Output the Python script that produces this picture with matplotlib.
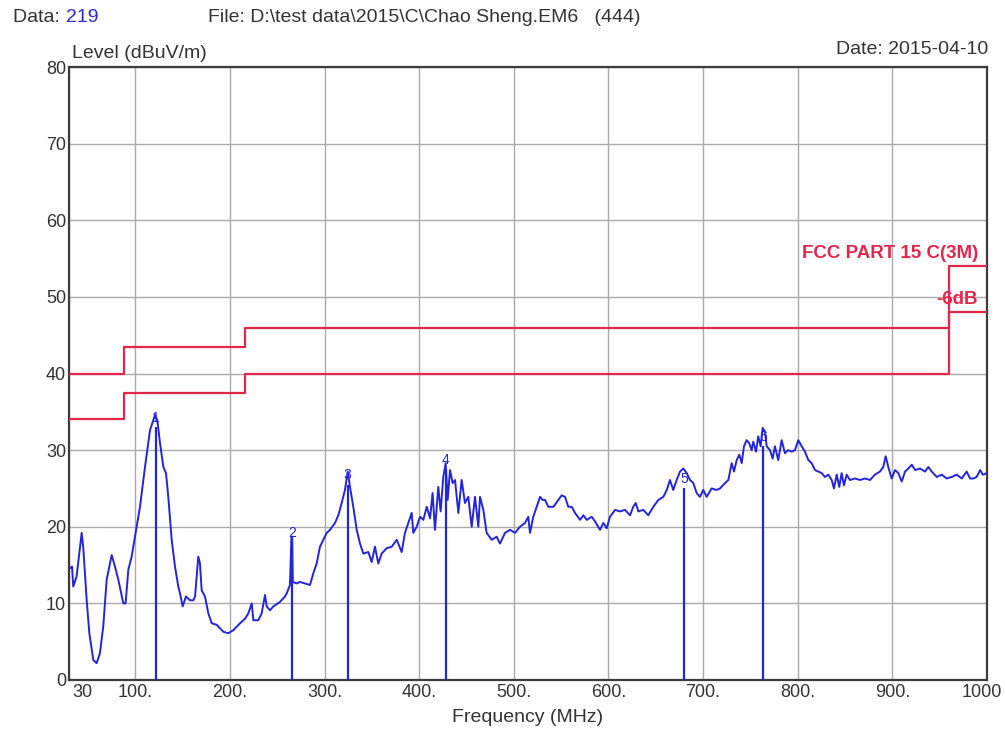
import matplotlib
matplotlib.use("Agg")
import matplotlib.pyplot as plt
from matplotlib.transforms import ScaledTranslation

plt.rcParams['font.family'] = ['Liberation Sans', 'DejaVu Sans']

# Measured spectrum (MHz, dBuV/m)
freq = [30.0, 33.2, 34.5, 38.0, 43.4, 45.0, 48.7, 51.5, 55.7, 59.2, 62.7, 66.2, 69.8,
        75.1, 78.6, 82.1, 87.4, 89.8, 92.7, 96.2, 101.5, 105.0, 110.3, 115.6, 120.9,
        123.3, 126.2, 129.7, 132.5, 134.9, 138.5, 142.0, 145.5, 147.3, 150.1, 153.6,
        157.9, 161.4, 163.2, 166.6, 168.4, 170.2, 173.7, 177.2, 180.8, 186.1, 193.0,
        198.3, 203.6, 210.7, 216.0, 219.5, 223.1, 224.8, 230.0, 233.6, 237.1, 238.9,
        242.4, 245.9, 253.0, 258.2, 260.0, 263.5, 265.0, 265.8, 266.5, 270.5, 274.0,
        279.4, 284.6, 288.1, 291.7, 295.2, 298.7, 302.3, 305.8, 311.1, 314.6, 318.1,
        321.6, 324.5, 326.9, 330.4, 334.0, 337.5, 341.0, 346.3, 349.8, 353.3, 356.8,
        360.4, 365.7, 371.0, 376.3, 381.5, 385.0, 388.6, 392.1, 393.8, 397.4, 400.9,
        404.4, 408.0, 411.5, 414.2, 416.7, 420.2, 422.7, 425.5, 428.0, 430.1, 432.6,
        435.4, 437.9, 441.4, 444.9, 448.4, 451.9, 455.5, 459.0, 462.5, 464.3, 467.8,
        471.3, 476.6, 481.9, 485.4, 490.7, 496.0, 501.3, 506.5, 511.8, 515.3, 517.1,
        520.6, 524.2, 527.7, 530.5, 533.0, 536.5, 541.8, 547.0, 550.6, 554.1, 557.6,
        561.2, 564.7, 570.0, 573.5, 577.0, 582.3, 585.8, 591.1, 594.6, 598.2, 601.6,
        607.0, 612.2, 617.5, 622.8, 626.2, 628.8, 631.6, 636.8, 642.1, 647.4, 652.7,
        658.0, 661.6, 665.0, 668.5, 672.1, 675.6, 679.1, 682.7, 686.2, 689.7, 693.2,
        696.7, 700.2, 703.8, 709.0, 714.3, 717.9, 723.2, 726.7, 730.2, 732.7, 735.5,
        738.3, 740.8, 743.2, 746.0, 748.8, 751.3, 753.0, 755.9, 758.3, 760.8, 763.0,
        765.4, 767.2, 770.7, 773.5, 775.9, 779.4, 783.0, 786.5, 790.0, 793.6, 797.1,
        800.6, 804.2, 807.7, 811.2, 814.7, 818.3, 821.7, 825.3, 828.8, 832.3, 835.9,
        838.3, 841.2, 843.9, 846.4, 848.8, 851.7, 855.2, 860.5, 865.8, 871.1, 876.4,
        881.6, 886.9, 890.4, 892.9, 895.7, 899.3, 902.8, 906.3, 909.9, 913.4, 916.9,
        920.5, 924.0, 929.2, 934.5, 938.0, 941.6, 946.9, 952.2, 957.4, 962.7, 968.0,
        973.3, 978.5, 982.1, 985.6, 989.0, 992.8, 995.5, 1000.0]
level = [14.5, 14.8, 12.2, 13.5, 19.2, 17.4, 10.4, 6.1, 2.6, 2.2, 3.5, 7.0, 13.1,
         16.3, 14.8, 13.1, 10.0, 10.0, 14.4, 16.1, 20.0, 22.6, 27.8, 32.6, 34.6,
         33.9, 30.9, 27.8, 27.0, 23.9, 18.3, 14.8, 12.2, 11.3, 9.6, 10.9,
         10.4, 10.4, 10.9, 16.1, 15.2, 11.7, 10.9, 8.7, 7.4, 7.2, 6.3,
         6.1, 6.5, 7.4, 8.0, 8.7, 10.0, 7.8, 7.8, 8.7, 11.1, 9.6,
         9.1, 9.6, 10.2, 10.9, 11.3, 12.4, 18.7, 18.7, 12.8, 12.6, 12.8,
         12.6, 12.4, 13.9, 15.2, 17.4, 18.3, 19.2, 19.6, 20.5, 21.5, 23.1,
         24.8, 27.2, 25.2, 22.6, 19.6, 17.8, 16.5, 16.7, 15.4, 17.4, 15.2,
         16.5, 17.2, 17.4, 18.3, 16.7, 19.2, 20.5, 21.8, 19.2, 20.0, 21.3,
         20.9, 22.6, 21.1, 24.4, 19.6, 25.2, 22.0, 26.5, 28.3, 23.5, 27.4,
         25.7, 26.1, 21.8, 26.1, 23.1, 23.9, 20.0, 23.9, 20.0, 23.9, 22.2,
         19.2, 18.3, 18.7, 17.8, 19.2, 19.6, 19.2, 20.0, 20.5, 21.3, 19.2,
         21.3, 22.6, 23.9, 23.5, 23.5, 22.6, 22.6, 23.5, 24.1, 23.9, 22.6,
         22.6, 21.8, 20.9, 21.5, 20.9, 21.3, 20.7, 19.6, 20.5, 19.8, 21.3,
         22.2, 22.0, 22.2, 21.5, 22.6, 23.1, 22.0, 22.2, 21.5, 22.6, 23.5,
         23.9, 24.8, 26.1, 24.8, 26.1, 27.2, 27.6, 27.0, 26.1, 25.7, 24.4,
         23.9, 24.8, 23.9, 25.0, 24.8, 25.0, 25.7, 26.1, 28.3, 27.2, 28.7,
         29.4, 28.3, 30.5, 31.3, 30.9, 30.0, 31.1, 29.8, 31.8, 30.5, 32.9,
         32.4, 30.5, 30.0, 28.9, 30.5, 28.7, 31.3, 29.6, 30.0, 29.8, 30.0,
         31.3, 30.5, 29.8, 28.7, 28.3, 27.4, 27.2, 27.0, 26.5, 26.8, 26.1,
         25.0, 26.8, 25.2, 27.0, 25.4, 26.8, 26.1, 26.3, 26.1, 26.3, 26.1,
         26.8, 27.2, 27.8, 29.2, 27.8, 26.3, 27.4, 27.0, 25.9, 27.2, 27.6,
         28.1, 27.4, 27.6, 27.2, 27.8, 27.2, 26.5, 26.8, 26.3, 26.5, 26.8,
         26.3, 27.2, 26.3, 26.3, 26.5, 27.4, 26.8, 27.0]

# Limit lines: FCC Part 15 class B at 3 m and the -6 dB margin
limit_edges = [30, 88, 216, 960, 1000]
limit_fcc = [40.0, 43.5, 46.0, 54.0]
limit_margin = [34.0, 37.5, 40.0, 48.0]

# Peak markers
marker_id = ['1', '2', '3', '4', '5', '6']
marker_freq = [122.0, 265.5, 324.5, 428.0, 680.0, 763.5]
marker_level = [33.0, 18.0, 25.5, 27.5, 25.0, 30.5]

xtick_vals = [30, 100, 200, 300, 400, 500, 600, 700, 800, 900, 1000]
xtick_text = ['30', '100.', '200.', '300.', '400.', '500.', '600.', '700.', '800.', '900.', '1000']
ytick_vals = [0, 10, 20, 30, 40, 50, 60, 70, 80]

RED = '#e3264c'
BLUE = '#2424d8'
TXT = '#333333'
HDR = 14

fig = plt.figure(figsize=(10.05, 7.31), dpi=100)
ax = fig.add_axes([69 / 1005, 51 / 731, 918 / 1005, 613 / 731])
ax.set_xlim(30, 1000)
ax.set_ylim(0, 80)

ax.set_xticks(xtick_vals)
ax.set_xticklabels(xtick_text)
ax.set_yticks(ytick_vals)
ax.tick_params(length=0, labelsize=13, labelcolor=TXT, pad=3)
ax.tick_params(axis='y', pad=2)
xlabels = ax.get_xticklabels()
xlabels[0].set_horizontalalignment('left')
xlabels[0].set_transform(xlabels[0].get_transform()
                         + ScaledTranslation(3 / 100, 0, fig.dpi_scale_trans))
xlabels[-1].set_horizontalalignment('right')
xlabels[-1].set_transform(xlabels[-1].get_transform()
                          + ScaledTranslation(15 / 100, 0, fig.dpi_scale_trans))

ax.grid(True, color='#ababab', linewidth=1.0)
ax.set_axisbelow(True)
for sp in ax.spines.values():
    sp.set_color('#3c3c3c')
    sp.set_linewidth(1.6)


def step_xy(edges, vals):
    xs, ys = [], []
    for i, v in enumerate(vals):
        xs += [edges[i], edges[i + 1]]
        ys += [v, v]
    return xs, ys


fx, fy = step_xy(limit_edges, limit_fcc)
mx, my = step_xy(limit_edges, limit_margin)
ax.plot(fx, fy, color=RED, linewidth=1.6, zorder=3)
ax.plot(mx, my, color=RED, linewidth=1.6, zorder=3)

ax.plot(freq, level, color=BLUE, linewidth=1.4, zorder=4)

ax.vlines(marker_freq, 0, marker_level, color=BLUE, linewidth=1.6, zorder=5)
for mid, f, v in zip(marker_id, marker_freq, marker_level):
    ax.text(f, v + 0.3, mid, color=BLUE, fontsize=10, ha='center', va='bottom', zorder=3.5)

ax.text(990.5, 54.5, 'FCC PART 15 C(3M)', color=RED, fontsize=13.5, fontweight='bold',
        ha='right', va='bottom', zorder=6)
ax.text(990.5, 48.6, '-6dB', color=RED, fontsize=13.5, fontweight='bold',
        ha='right', va='bottom', zorder=6)

# Header and axis captions
fig.text(13 / 1005, 1 - 18 / 731, 'Data: ', fontsize=HDR, color=TXT, va='center', ha='left')
fig.text(66 / 1005, 1 - 18 / 731, '219', fontsize=HDR, color='#2a2ad0', va='center', ha='left')
fig.text(208 / 1005, 1 - 18 / 731, 'File: D:\\test data\\2015\\C\\Chao Sheng.EM6   (444)',
         fontsize=HDR, color=TXT, va='center', ha='left')
fig.text(72 / 1005, 1 - 53 / 731, 'Level (dBuV/m)', fontsize=HDR, color=TXT, va='center', ha='left')
fig.text(988 / 1005, 1 - 50 / 731, 'Date: 2015-04-10', fontsize=HDR, color=TXT, va='center', ha='right')
fig.text(528 / 1005, 1 - 718 / 731, 'Frequency (MHz)', fontsize=HDR, color=TXT, va='center', ha='center')

fig.savefig('out.png', dpi=100, facecolor='white')
